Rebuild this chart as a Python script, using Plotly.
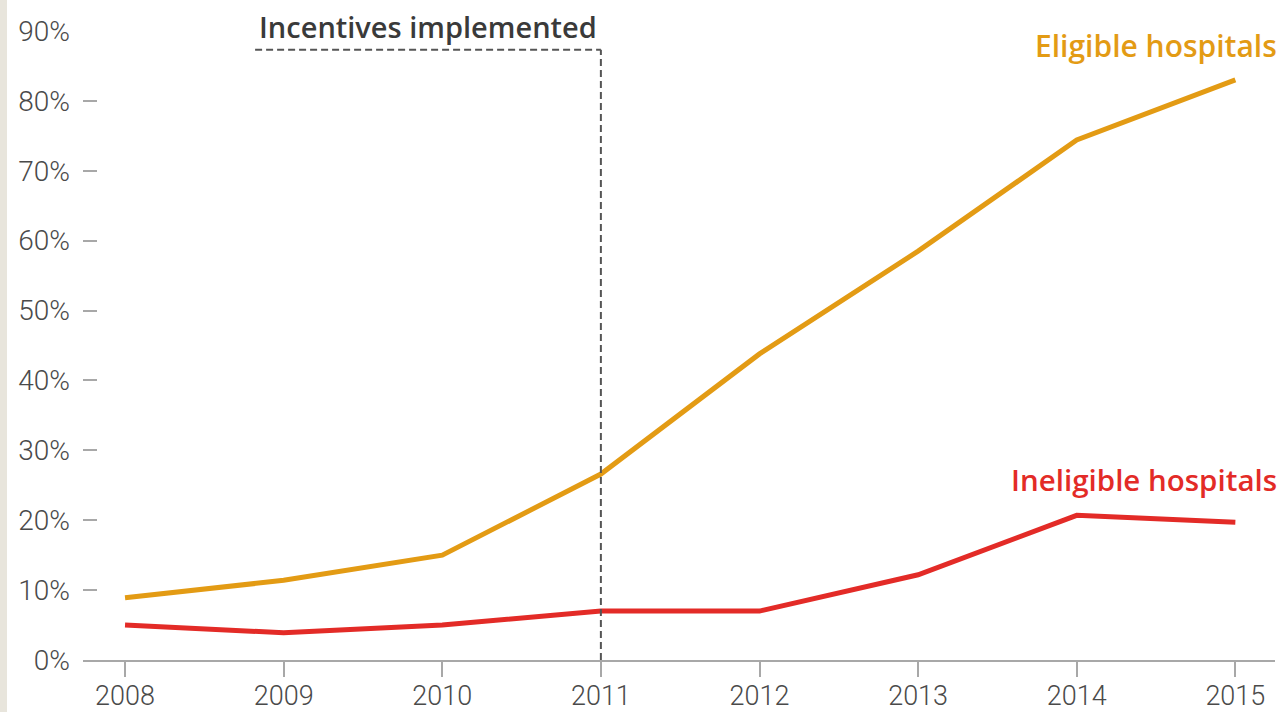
import plotly.graph_objects as go

# Share of hospitals, by year
years = [2008, 2009, 2010, 2011, 2012, 2013, 2014, 2015]
eligible = [8.9, 11.4, 15.0, 26.6, 43.8, 58.5, 74.4, 83.0]
ineligible = [5.0, 3.9, 5.0, 7.0, 7.0, 12.2, 20.7, 19.7]

y_ticks = [0, 10, 20, 30, 40, 50, 60, 70, 80, 90]
y_tick_labels = [f"{v}%" for v in y_ticks]

incentive_year = 2011
incentive_bracket_start = 2008.82
incentive_bracket_level = 87.3

ORANGE = "#e39b14"
RED = "#e32b27"
GREY_TEXT = "#4a4a4a"
AXIS_GREY = "#a8a8a8"

W, H = 1280, 712
M_L, M_R, M_T, M_B = 83, 5, 31, 52
plot_w = W - M_L - M_R

fig = go.Figure()
fig.add_trace(go.Scatter(x=years, y=eligible, mode="lines",
                         line=dict(color=ORANGE, width=5), name="Eligible hospitals"))
fig.add_trace(go.Scatter(x=years, y=ineligible, mode="lines",
                         line=dict(color=RED, width=5), name="Ineligible hospitals"))

# "Incentives implemented" bracket
bracket_line = dict(color="#555555", width=2, dash="7px,4px")
fig.add_shape(type="line", x0=incentive_year, x1=incentive_year, y0=0, y1=incentive_bracket_level,
              xref="x", yref="y", line=bracket_line)
fig.add_shape(type="line", x0=incentive_bracket_start, x1=incentive_year,
              y0=incentive_bracket_level, y1=incentive_bracket_level,
              xref="x", yref="y", line=bracket_line)
fig.add_annotation(x=(incentive_bracket_start + incentive_year) / 2, y=incentive_bracket_level,
                   xref="x", yref="y", text="Incentives implemented", showarrow=False,
                   yanchor="bottom", yshift=2,
                   font=dict(family="Open Sans", size=29, color="#3a3a3a", weight=600))

# Series labels
fig.add_annotation(x=1.0, y=eligible[-1], xref="paper", yref="y", text="Eligible hospitals",
                   showarrow=False, xanchor="right", yanchor="bottom", yshift=12, xshift=4,
                   font=dict(family="Open Sans", size=30, color=ORANGE, weight=600))
fig.add_annotation(x=1.0, y=ineligible[-1], xref="paper", yref="y", text="Ineligible hospitals",
                   showarrow=False, xanchor="right", yanchor="bottom", yshift=20, xshift=4,
                   font=dict(family="Open Sans", size=29.5, color=RED, weight=600))

# Beige strip down the left edge
fig.add_shape(type="rect", xref="paper", yref="paper",
              x0=-M_L / plot_w, x1=-(M_L - 7) / plot_w, y0=-M_B / (H - M_T - M_B),
              y1=1 + M_T / (H - M_T - M_B), fillcolor="#e8e5dc", line=dict(width=0), layer="below")

fig.update_layout(
    width=W, height=H,
    margin=dict(l=M_L, r=M_R, t=M_T, b=M_B, autoexpand=False),
    paper_bgcolor="white", plot_bgcolor="white",
    showlegend=False,
    xaxis=dict(range=[2007.735, 2015.25], tickvals=years, ticktext=[str(y) for y in years],
               automargin=False,
               showgrid=False, zeroline=False, showline=True, linecolor=AXIS_GREY, linewidth=2,
               ticks="outside", ticklen=15, tickwidth=1.5, tickcolor=AXIS_GREY,
               ticklabelstandoff=-4,
               tickfont=dict(family="Roboto", size=27, color=GREY_TEXT, weight=300)),
    yaxis=dict(range=[0, 90], tickvals=y_ticks, ticktext=y_tick_labels,
               automargin=False,
               showgrid=False, zeroline=False, showline=False,
               ticks="inside", ticklen=14, tickwidth=1.5, tickcolor=AXIS_GREY,
               ticklabelstandoff=12,
               tickfont=dict(family="Roboto", size=28, color=GREY_TEXT, weight=300)),
)

fig.write_html("out.html")
